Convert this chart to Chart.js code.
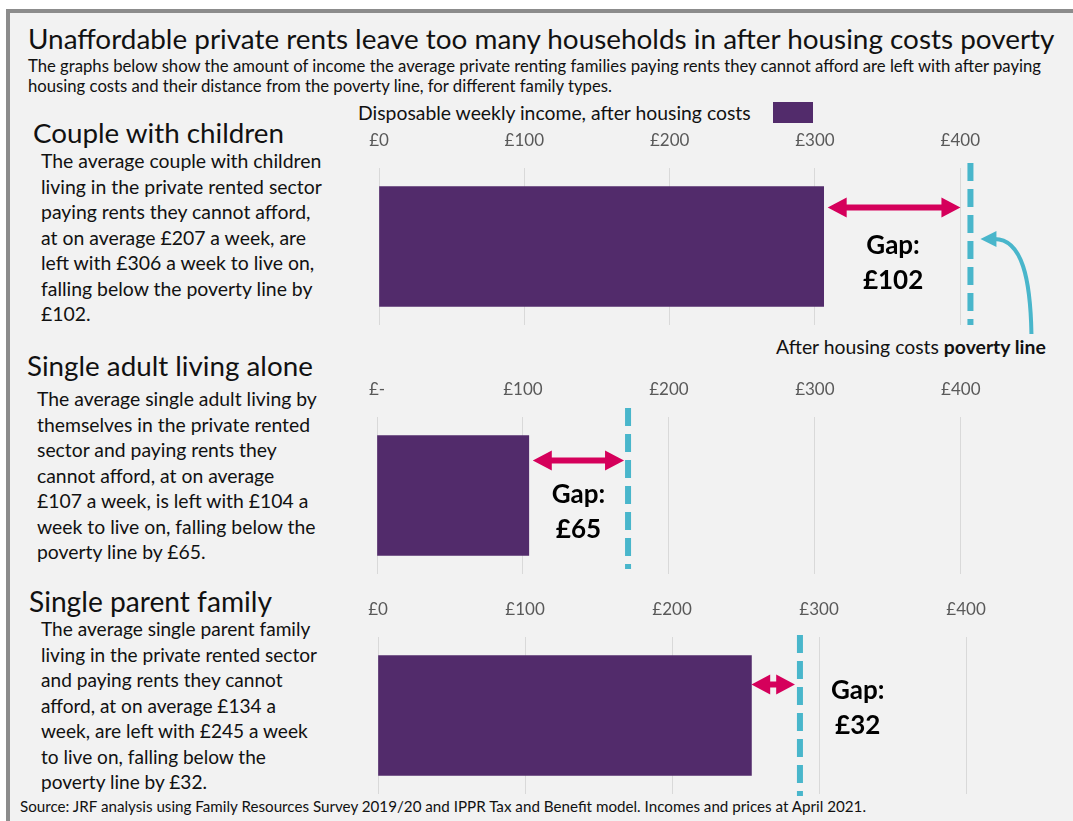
<!DOCTYPE html>
<html>
<head>
<meta charset="utf-8">
<script src="https://cdn.jsdelivr.net/npm/chart.js@4.4.1/dist/chart.umd.min.js"></script>
<style>
  body { margin: 0; width: 1073px; height: 821px; background: #fff; overflow: hidden; font-family: Lato, "Open Sans", sans-serif; color: #111; }
  #frame { position: absolute; left: 6px; top: 9px; right: 0; bottom: 0; background: #f2f2f2; border-left: 4px solid #8c8c8c; border-top: 4px solid #8c8c8c; }
  .t { position: absolute; white-space: nowrap; }
  canvas { position: absolute; }
  #title { left: 28px; top: 21px; font-size: 26px; line-height: 34px; }
  #sub { left: 28px; top: 57px; font-size: 14px; line-height: 19.5px; }
  #legendText { left: 358px; top: 101px; font-size: 17px; line-height: 24px; }
  #legendBox { position: absolute; left: 773px; top: 102px; width: 40px; height: 21px; background: #522b6b; }
  .head { font-size: 24px; line-height: 30px; }
  .desc { font-size: 17px; line-height: 25.5px; }
  #povNote { left: 776px; top: 335px; font-size: 17px; line-height: 24px; }
  #source { left: 20px; top: 796px; font-size: 15px; line-height: 20px; transform-origin: 0 50%; }
</style>
</head>
<body>
<div id="frame"></div>

<div class="t" id="title" data-w="1027">Unaffordable private rents leave too many households in after housing costs poverty</div>
<div class="t" id="sub" data-w="1014">The graphs below show the amount of income the average private renting families paying rents they cannot afford are left with after paying<br>housing costs and their distance from the poverty line, for different family types.</div>
<div class="t" id="legendText" data-w="393">Disposable weekly income, after housing costs</div>
<div id="legendBox"></div>

<div class="t head" style="left:33px;top:118px" data-w="251">Couple with children</div>
<div class="t desc" style="left:41px;top:148px" data-w="281">The average couple with children<br>living in the private rented sector<br>paying rents they cannot afford,<br>at on average £207 a week, are<br>left with £306 a week to live on,<br>falling below the poverty line by<br>£102.</div>

<div class="t head" style="left:27px;top:351px" data-w="286">Single adult living alone</div>
<div class="t desc" style="left:37px;top:386px" data-w="280">The average single adult living by<br>themselves in the private rented<br>sector and paying rents they<br>cannot afford, at on average<br>£107 a week, is left with £104 a<br>week to live on, falling below the<br>poverty line by £65.</div>

<div class="t head" style="left:29px;top:586px" data-w="243">Single parent family</div>
<div class="t desc" style="left:41px;top:616px" data-w="276">The average single parent family<br>living in the private rented sector<br>and paying rents they cannot<br>afford, at on average £134 a<br>week, are left with £245 a week<br>to live on, falling below the<br>poverty line by £32.</div>

<div class="t" id="povNote" data-w="270">After housing costs <b>poverty line</b></div>
<div class="t" id="source" data-sx="846">Source: JRF analysis using Family Resources Survey 2019/20 and IPPR Tax and Benefit model. Incomes and prices at April 2021.</div>

<canvas id="chart0" width="710" height="221" style="left:359px;top:124px"></canvas>
<canvas id="chart1" width="713" height="209" style="left:357px;top:373px"></canvas>
<canvas id="chart2" width="715" height="209" style="left:358px;top:593px"></canvas>

<script>
// values
const families = ['Couple with children', 'Single adult living alone', 'Single parent family'];
const incomeAfterHousing = [306, 104, 254];
const povertyLine = [407, 172, 287];
const gapLabels = ['£102', '£65', '£32'];
const ticksCouple = ['£0', '£100', '£200', '£300', '£400'];
const ticksSingle = ['£-', '£100', '£200', '£300', '£400'];
const ticksParent = ['£0', '£100', '£200', '£300', '£400'];
const tickSets = [ticksCouple, ticksSingle, ticksParent];

const PURPLE = '#522b6b';
const CYAN = '#49b6cb';
const PINK = '#d5005b';

// per panel layout (pixels)
const layouts = [
  { pad: { left: 20, right: 7, top: 7, bottom: 20 }, arrowDy: 21, gapL: 4, gapR: 10, labelDx: -4, labelDy: 38, lineTop: 5, lineBottom: 0, curve: true },
  { pad: { left: 20, right: 7, top: 7, bottom: 8 }, arrowDy: 25, gapL: 4, gapR: 4, labelDx: 0, labelDy: 34, lineTop: 9, lineBottom: -5 },
  { pad: { left: 20, right: 4, top: 7, bottom: 8 }, arrowDy: 29, gapL: 0, gapR: 5, labelDx: 82, labelDy: 6, lineTop: 2, lineBottom: 2 }
];

function doubleArrow(ctx, x1, x2, y) {
  const h = Math.min(19, (x2 - x1) / 2 - 3);
  const hh = 10, s = 3;
  ctx.beginPath();
  ctx.moveTo(x1, y);
  ctx.lineTo(x1 + h, y - hh);
  ctx.lineTo(x1 + h, y - s);
  ctx.lineTo(x2 - h, y - s);
  ctx.lineTo(x2 - h, y - hh);
  ctx.lineTo(x2, y);
  ctx.lineTo(x2 - h, y + hh);
  ctx.lineTo(x2 - h, y + s);
  ctx.lineTo(x1 + h, y + s);
  ctx.lineTo(x1 + h, y + hh);
  ctx.closePath();
  ctx.fillStyle = PINK;
  ctx.fill();
}

const gapPlugin = {
  id: 'gap',
  afterDatasetsDraw(chart, args, opts) {
    const i = opts.index;
    const lay = layouts[i];
    const ctx = chart.ctx;
    const area = chart.chartArea;
    const xs = chart.scales.x;
    const bar = chart.getDatasetMeta(0).data[0];
    const linePx = xs.getPixelForValue(povertyLine[i]);
    const barEnd = bar.x;
    const barTop = bar.y - bar.height / 2;

    ctx.save();
    // poverty line
    ctx.strokeStyle = CYAN;
    ctx.lineWidth = 6;
    ctx.setLineDash([18, 8]);
    ctx.beginPath();
    ctx.moveTo(linePx, area.top - lay.lineTop);
    ctx.lineTo(linePx, area.bottom + lay.lineBottom);
    ctx.stroke();
    ctx.setLineDash([]);

    // gap arrow
    const ay = barTop + lay.arrowDy;
    doubleArrow(ctx, barEnd + lay.gapL, linePx - lay.gapR, ay);

    // gap label
    const lx = (barEnd + linePx) / 2 + lay.labelDx;
    ctx.fillStyle = '#000';
    ctx.font = 'bold 26px Lato, "Open Sans", sans-serif';
    ctx.textAlign = 'center';
    ctx.textBaseline = 'middle';
    ctx.fillText('Gap:', lx, ay + lay.labelDy);
    ctx.fillText(gapLabels[i], lx, ay + lay.labelDy + 35);

    // curved pointer to the poverty line
    if (lay.curve) {
      const tipY = area.top + 71;
      ctx.strokeStyle = CYAN;
      ctx.lineWidth = 4;
      ctx.beginPath();
      ctx.moveTo(linePx + 61, area.bottom + 9);
      ctx.bezierCurveTo(linePx + 60, area.bottom - 45, linePx + 52, tipY, linePx + 24, tipY);
      ctx.stroke();
      ctx.fillStyle = CYAN;
      ctx.beginPath();
      ctx.moveTo(linePx + 10, tipY);
      ctx.lineTo(linePx + 26, tipY - 8);
      ctx.lineTo(linePx + 26, tipY + 8);
      ctx.closePath();
      ctx.fill();
    }
    ctx.restore();
  }
};

function makePanel(i) {
  const labels = tickSets[i];
  new Chart(document.getElementById('chart' + i), {
    type: 'bar',
    data: {
      labels: [families[i]],
      datasets: [{
        label: 'Disposable weekly income, after housing costs',
        data: [incomeAfterHousing[i]],
        backgroundColor: PURPLE,
        barThickness: 120
      }]
    },
    options: {
      indexAxis: 'y',
      responsive: false,
      animation: false,
      layout: { padding: layouts[i].pad },
      plugins: {
        legend: { display: false },
        tooltip: { enabled: false },
        gap: { index: i }
      },
      scales: {
        x: {
          position: 'top',
          min: 0,
          max: 470,
          grid: { color: '#d9d9d9', drawTicks: false },
          border: { display: false },
          ticks: {
            stepSize: 100,
            includeBounds: false,
            padding: 17,
            color: '#595959',
            font: { family: 'Lato, "Open Sans", sans-serif', size: 17 },
            callback: (v, idx) => labels[idx]
          },
          afterFit: s => { s.height = 37; s.paddingLeft = 0; s.paddingRight = 0; }
        },
        y: { display: false, afterFit: s => { s.width = 0; } }
      }
    },
    plugins: [gapPlugin]
  });
}

function fitText() {
  document.querySelectorAll('[data-w]').forEach(el => {
    const target = +el.dataset.w;
    const w = el.getBoundingClientRect().width;
    const fs = parseFloat(getComputedStyle(el).fontSize);
    el.style.fontSize = (fs * target / w).toFixed(2) + 'px';
  });
  const src = document.getElementById('source');
  src.style.transform = 'scaleX(' + (+src.dataset.sx / src.getBoundingClientRect().width).toFixed(3) + ')';
}

document.fonts.ready.then(() => {
  fitText();
  [0, 1, 2].forEach(makePanel);
});
</script>
</body>
</html>
